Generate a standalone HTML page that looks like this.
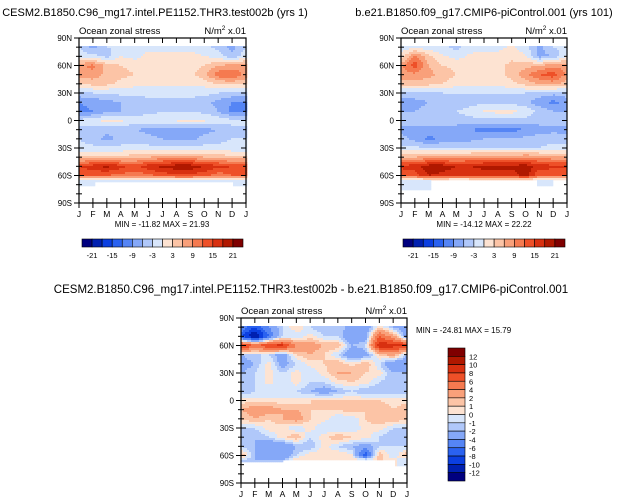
<!DOCTYPE html>
<html><head><meta charset="utf-8">
<style>
html,body{margin:0;padding:0;background:#fff;}
svg{display:block;font-family:"Liberation Sans",Arial,sans-serif;}
</style></head>
<body>
<svg id="fig" width="622" height="504" viewBox="0 0 622 504" xmlns="http://www.w3.org/2000/svg"></svg>
<script>
const months=["J","F","M","A","M","J","J","A","S","O","N","D","J"];
const lats=[80,70,60,50,40,30,20,10,0,-10,-20,-30,-40,-50,-60,-65];
const latTicks=["90N","60N","30N","0","30S","60S","90S"];
const levelsTop=[-21,-18,-15,-12,-9,-6,-3,0,3,6,9,12,15,18,21];
const levelLabelsTop=["-21","-15","-9","-3","3","9","15","21"];
const levelsDiff=[-12,-10,-8,-6,-4,-2,-1,0,1,2,4,6,8,10,12];
const levelLabelsDiff=["12","10","8","6","4","2","1","0","-1","-2","-4","-6","-8","-10","-12"];
const colors=["#00007f","#0020b0","#0b3fe0","#2a62f0","#5585f5","#85a8f8","#b0c8fa","#d8e6fb","#fde3d2","#fcc4a6","#f9a07a","#f57a50","#ee5028","#d83010","#b01800","#7f0000"];
const dataA=[
[-3,-7,-3,-3,-1,-1,-1,-1,-1,-2,-4,-7,-3],
[-1,-2,-4,0,-1,1,1,1,1,0,-1,-5,-1],
[8,10,5,3,2,1,1,1,2,3,6,7,8],
[7,8,5,4,3,2,1,1,2,5,11,12,8],
[3,4,4,2,1,0.5,0.5,0.5,0.5,1,3,4,3],
[-4,-3,-3,-2,-2,-2,-2,-2,-2,-2,-3,-4,-4],
[-9,-8,-7,-6,-5,-4,-4,-4,-4,-5,-7,-9,-9],
[-10,-9,-7,-6,-5,-4,-3,-3,-3,-4,-6,-10,-10],
[-2,-1,1,0.5,-1,-1,-1,0.5,0.5,0.5,-1,-2,-2],
[-4,-4,-5,-5,-6,-7,-8,-8,-8,-7,-6,-4,-4],
[-3,-5,-7,-5,-4,-5,-6,-7,-7,-5,-4,-3,-3],
[-2,-2,-2,-2,-2,-2,-2,-2,-2,-2,-2,-2,-2],
[4,4,4,4,5,6,7,7,7,6,5,4,4],
[15,17,19,16,14,17,19,20,20,18,16,15,15],
[12,12,12,11,10,11,13,14,14,13,10,12,12],
[-1,-1,-1,-1,-1,-1,-1,-1,-1,-1,-1,-1,-1]];
const dataB=[
[-2,-1,-2,-2,-4,-1,-1,-1,0.5,-2,-7,-3,-2],
[0.5,10,4,0.5,-1,0.5,1,1,2,0.5,-7,-6,0.5],
[8,14,6,3,2,1,1,2,4,5,6,8,8],
[8,8,7,5,3,2,1,2,4,8,12,14,8],
[4,5,4,3,1,0.5,0.5,1,2,4,6,7,4],
[-4,-4,-4,-3,-3,-3,-3,-3,-3,-3,-4,-5,-4],
[-8,-7,-6,-6,-5,-4,-4,-4,-4,-5,-8,-10,-8],
[-6,-6,-5,-4,-3,-2,0.5,1,1,-1,-4,-6,-6],
[-4,-4,-4,-4,-4,-4,-4,-4,-4,-4,-4,-4,-4],
[-7,-7,-7,-7,-8,-9,-10,-10,-10,-9,-8,-7,-7],
[-5,-7,-10,-8,-7,-7,-6,-6,-6,-5,-4,-4,-5],
[-2,-2,-3,-3,-3,-3,-3,-3,-3,-3,-3,-2,-2],
[6,6,7,7,7,8,8,8,8,9,8,7,6],
[16,17,20,20,18,18,19,19,19,20,17,16,16],
[12,13,18,17,15,16,16,17,16,20,12,12,12],
[-1,-1,-1,-1,-1,-1,-1,-1,-1,-1,-1,-1,-1]];
const dataD=[
[-4,-8,-4,-1,1,-1,-2,-1,-3,-4,1,-2,-3],
[-8,-13,-6,-1,-1,0.5,-1,-1,-4,-3,6,3,-4],
[9,6,8,9,4,3,2,2,-2,-1,10,9,9],
[-2,-1,-1,-3,1,2,1,-1,-4,-3,1,3,-2],
[-3,-2,0.5,-3,-1,0.5,1,2,0.5,2,-1,-4,-3],
[-2,-1,0.5,-1,0.5,-1,0.5,2,2,1,0.5,-2,-2],
[-2,-1,0.5,-1,0.5,-1,-1,0.5,1,0.5,-1,-2,-2],
[-2,-1,-1,-1,-1,-2,-3,-2,-1,-2,-2,-2,-2],
[0.5,0.5,0.5,0.5,0.5,1,1,1,1,1,1,0.5,0.5],
[2,3,3,2,2,1,1,1,2,1,2,1,2],
[1,2,1,2,3,1,0.5,-1,-1,1,2,2,1],
[-1,-1,0.5,0.5,-1,0.5,-1,-1,-1,0.5,0.5,-1,-1],
[-1,-2,-1,0.5,2,-1,0.5,2,1,0.5,-1,-2,-1],
[-1,-2,-4,-4,-2,-2,0.5,-1,-2,-3,-1,-1,-1],
[2,-2,-3,-4,-1,1,0.5,1,0.5,-8,2,-1,2],
[-1,-2,-2,-2,1,1,1,1,1,1,1,0.5,-1]];

const NS="http://www.w3.org/2000/svg";
const fig=document.getElementById('fig');
function el(tag,attrs,parent){const e=document.createElementNS(NS,tag);for(const k in attrs)e.setAttribute(k,attrs[k]);(parent||fig).appendChild(e);return e;}
function txt(s,x,y,size,anchor,parent){const t=el('text',{x:x,y:y,'font-size':size,'text-anchor':anchor||'start',fill:'#000'},parent);t.textContent=s;return t;}
function sample(data,lat,fx){
  let i=0;while(i<lats.length-2&&lat<lats[i+1])i++;
  let t=(lats[i]-lat)/(lats[i]-lats[i+1]);t=Math.max(0,Math.min(1,t));
  let c=Math.min(11,Math.floor(fx));let u=fx-c;
  const a=data[i][c]*(1-u)+data[i][c+1]*u;
  const b=data[i+1][c]*(1-u)+data[i+1][c+1]*u;
  return a*(1-t)+b*t;
}
function colorFor(v,levels){let k=0;while(k<levels.length&&v>=levels[k])k++;return colors[k];}
function panel(name,data,levels,x0,y0,w,h,minmax,mmx,mmy,lowMask){
  const g=el('g',{});
  
  
  const step=2;
  for(let py=0;py<h;py+=step){
    const lat=90-(py+step/2)/h*180;
    if(lat>82)continue;
    for(let px=0;px<w;px+=step){
      const fx=(px+step/2)/w*12;
      const lim=lowMask(fx);
      if(lat<lim)continue;
      const v=sample(data,lat,fx);
      const r=el('rect',{x:x0+px,y:y0+py,width:step+0.3,height:step+0.3,fill:colorFor(v,levels)},g);
      
      
    }
  }
  const frame=el('rect',{x:x0,y:y0,width:w,height:h,fill:'none',stroke:'#000','stroke-width':1.2},g);
  
  
  for(let k=0;k<=18;k++){
    const y=y0+k/18*h;const major=k%3===0;const L=major?5:3;
    el('line',{x1:x0,y1:y,x2:x0+L,y2:y,stroke:'#000','stroke-width':1},g);
    el('line',{x1:x0+w,y1:y,x2:x0+w-L,y2:y,stroke:'#000','stroke-width':1},g);
    el('line',{x1:x0,y1:y,x2:x0-L,y2:y,stroke:'#000','stroke-width':1},g);
  }
  latTicks.forEach((s,k)=>{const t=txt(s,x0-7,y0+k/6*h+3,8,'end',g);});
  months.forEach((s,k)=>{const x=x0+k/12*w;
    el('line',{x1:x,y1:y0+h,x2:x,y2:y0+h+5,stroke:'#000','stroke-width':1},g);
    el('line',{x1:x,y1:y0,x2:x,y2:y0+5,stroke:'#000','stroke-width':1},g);
    el('line',{x1:x,y1:y0+h,x2:x,y2:y0+h-5,stroke:'#000','stroke-width':1},g);
    const t=txt(s,x,y0+h+14,8.5,'middle',g);});
  const st=txt('Ocean zonal stress',x0,y0-4,9.5,'start',g);
  
  const un=el('text',{x:x0+w,y:y0-4,'font-size':9.5,'text-anchor':'end'},g);
  un.innerHTML='N/m<tspan font-size="6.5" dy="-4">2</tspan><tspan dy="4"> x.01</tspan>';
  
  if(minmax){const mm=txt(minmax,mmx,mmy,8,'middle',g);
  }
}
function hbar(name,x0,y0,w,h){
  const g=el('g',{});
  const bw=w/16;
  colors.forEach((c,k)=>{const r=el('rect',{x:x0+k*bw,y:y0,width:bw,height:h,fill:c,stroke:'#000','stroke-width':0.6},g);
    });
  levelsTop.forEach((v,k)=>{if(k%2===0){const t=txt(String(v),x0+(k+1)*bw,y0+h+11,7.5,'middle',g);
    }});
}
function vbar(name,x0,y0,w,h){
  const g=el('g',{});
  const bh=h/16;
  colors.slice().reverse().forEach((c,k)=>{const r=el('rect',{x:x0,y:y0+k*bh,width:w,height:bh,fill:c,stroke:'#000','stroke-width':0.6},g);
    });
  levelLabelsDiff.forEach((s,k)=>{const t=txt(s,x0+w+4,y0+(k+1)*bh+3,7.5,'start',g);
    });
}
const maskA=fx=>fx<1.1?-72:(fx<2.2?-68:(fx>11.1?-72:-67));
const maskB=fx=>fx<2.1?-76:(fx>9.9&&fx<11?-72:-65);
const maskD=fx=>fx<2?-68:(fx<3?-67:(fx>11.2?-72:-64));
let t1=txt('CESM2.B1850.C96_mg17.intel.PE1152.THR3.test002b (yrs 1)',155,16,11,'middle');

let t2=txt('b.e21.B1850.f09_g17.CMIP6-piControl.001 (yrs 101)',484,16,11,'middle');

let t3=txt('CESM2.B1850.C96_mg17.intel.PE1152.THR3.test002b - b.e21.B1850.f09_g17.CMIP6-piControl.001',311,293,11.5,'middle');

panel('panel-test',dataA,levelsTop,79,38,167,165,'MIN = -11.82 MAX =  21.93',162,227,maskA);
panel('panel-control',dataB,levelsTop,401,38,166,165,'MIN = -14.12 MAX =  22.22',484,227,maskB);
panel('panel-diff',dataD,levelsDiff,241,318,166,165,'',0,0,maskD);
let mmd=txt('MIN = -24.81 MAX =  15.79',416,333,8,'start');

hbar('colorbar-test',82,239,161,8);
hbar('colorbar-control',403,239,162,8);
vbar('colorbar-diff',448,348,17,133);
</script>
</body></html>
